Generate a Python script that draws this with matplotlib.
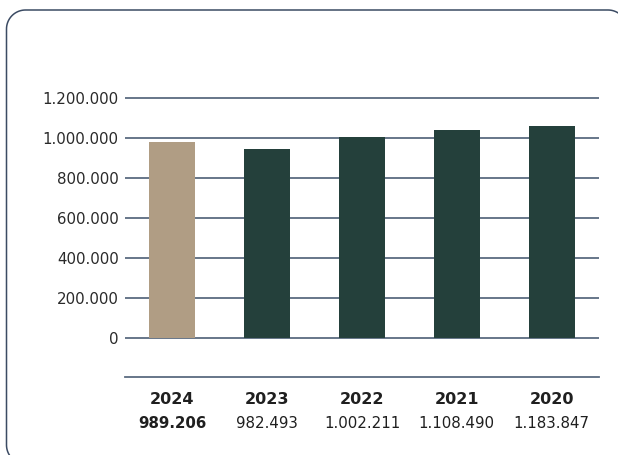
import matplotlib
matplotlib.use("Agg")
import numpy as np
import matplotlib.pyplot as plt
from matplotlib.patches import PathPatch
from matplotlib.path import Path
from matplotlib.lines import Line2D
from matplotlib.ticker import FuncFormatter

plt.rcParams["savefig.bbox"] = "standard"

years = ["2024", "2023", "2022", "2021", "2020"]
bar_values = [976000, 945000, 1005000, 1040000, 1060000]
value_labels = ["989.206", "982.493", "1.002.211", "1.108.490", "1.183.847"]
bar_colors = ["#b09d84", "#24403b", "#24403b", "#24403b", "#24403b"]
yticks = [0, 200000, 400000, 600000, 800000, 1000000, 1200000]

FONT = "DejaVu Sans"
W, H = 618, 455
fig = plt.figure(figsize=(W / 100, H / 100), dpi=100)
fig.patch.set_facecolor("white")

left_px, right_px = 125, 599
ymin, ymax = -20000, 1260000
zero_px = 337.7
px_per_unit = 40 / 200000
top_px = zero_px - (ymax * px_per_unit)
bot_px = zero_px - (ymin * px_per_unit)
ax = fig.add_axes([left_px / W, 1 - bot_px / H, (right_px - left_px) / W, (bot_px - top_px) / H])

ax.set_xlim(-0.5, len(years) - 0.5)
ax.set_ylim(ymin, ymax)
for s in ax.spines.values():
    s.set_visible(False)

for yv in yticks:
    ax.axhline(yv, color="#5b6b80", lw=1.3, zorder=1)

ax.bar(range(len(years)), bar_values, width=0.485, color=bar_colors, zorder=2)

ax.set_xticks([])
ax.set_yticks(yticks)
ax.yaxis.set_major_formatter(FuncFormatter(lambda v, p: f"{int(v):,}".replace(",", ".")))
ax.tick_params(axis="y", length=0, pad=4.5, labelsize=10.8, labelcolor="#2a2a2a")
for lab in ax.get_yticklabels():
    lab.set_fontfamily(FONT)


def fig_y(px):
    return 1 - px / H


fig.add_artist(Line2D([left_px / W, right_px / W], [fig_y(377), fig_y(377)],
                      color="#5b6b80", lw=1.3))

for i, (yr, vl) in enumerate(zip(years, value_labels)):
    xf = (left_px + (i + 0.5) * (right_px - left_px) / len(years)) / W
    fig.text(xf, fig_y(399), yr, ha="center", va="center", fontsize=11.5,
             fontweight="bold", family=FONT, color="#1f1f1f")
    fig.text(xf, fig_y(423), vl, ha="center", va="center", fontsize=10.8,
             fontweight="bold" if i == 0 else "normal", family=FONT, color="#1f1f1f")

# rounded frame (partly outside the canvas), built in pixel units
x0, y0, x1, y1, r = 6.5, 10.0, 627.0, 464.0, 19.0
pts = []
def arc(cx, cy, a0, a1):
    for a in np.linspace(np.radians(a0), np.radians(a1), 20):
        pts.append((cx + r * np.cos(a), cy + r * np.sin(a)))
arc(x0 + r, y0 + r, 180, 270)
arc(x1 - r, y0 + r, 270, 360)
arc(x1 - r, y1 - r, 0, 90)
arc(x0 + r, y1 - r, 90, 180)
pts.append(pts[0])
verts = [(px / W, 1 - py / H) for px, py in pts]
frame = PathPatch(Path(verts), transform=fig.transFigure, fill=False,
                  edgecolor="#3b4b63", lw=1.1)
frame.set_clip_box(fig.bbox)
frame.set_clip_on(True)
fig.add_artist(frame)

fig.savefig("out.png", dpi=100, bbox_inches=None)
